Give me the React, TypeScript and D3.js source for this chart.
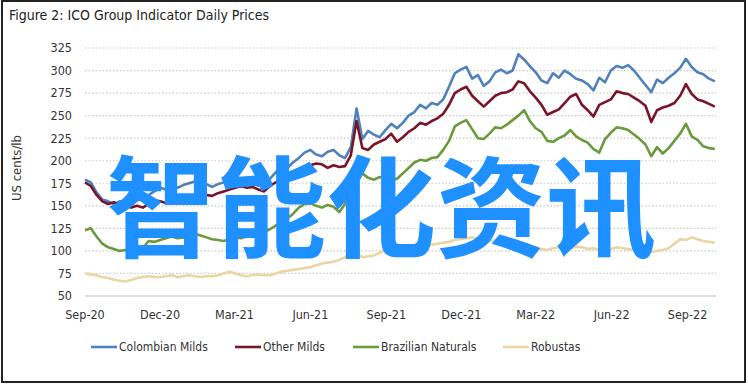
import React from 'react';
import * as d3 from 'd3';

// weekly readings, starting 1 Sep 2020
const startDate = '2020-09-01';
const endDate = '2022-10-03';

const colombianMilds = [
  179, 176, 165, 157, 155, 152, 155, 153, 150, 156, 158, 162, 166, 170, 168, 172, 170, 173, 175, 177,
  172, 174, 171, 174, 176, 173, 175, 171, 174, 176, 172, 177, 180, 187, 194, 192, 198, 203, 209, 212,
  207, 205, 210, 212, 206, 203, 215, 258, 224, 233, 229, 226, 234, 241, 236, 242, 250, 254, 262, 258,
  264, 262, 268, 282, 297, 301, 304, 291, 295, 283, 288, 298, 301, 297, 300, 318, 312, 305, 298, 289,
  286, 297, 292, 300, 296, 291, 289, 285, 278, 292, 287, 300, 305, 303, 306, 300, 292, 284, 276, 290,
  286, 292, 297, 303, 313, 304, 298, 296, 291, 288,
];

const otherMilds = [
  176, 172, 162, 155, 152, 154, 150, 151, 148, 150, 148, 152, 156, 155, 153, 157, 159, 160, 158, 161,
  159, 162, 161, 164, 166, 168, 170, 172, 170, 171, 168, 166, 172, 176, 178, 180, 183, 188, 192, 195,
  197, 196, 192, 195, 193, 194, 206, 244, 214, 212, 218, 221, 224, 230, 221, 226, 232, 236, 242, 240,
  244, 247, 252, 262, 275, 279, 282, 272, 266, 260, 266, 272, 275, 276, 279, 288, 286, 277, 270, 262,
  251, 254, 257, 264, 271, 274, 262, 256, 249, 262, 265, 268, 277, 275, 274, 270, 266, 261, 243, 256,
  259, 261, 264, 272, 285, 274, 268, 266, 263, 260,
];

const brazilianNaturals = [
  123, 125, 116, 108, 104, 102, 100, 101, 98, 95, 103, 111, 110, 112, 114, 116, 114, 115, 112, 119,
  117, 115, 113, 112, 111, 113, 115, 114, 116, 117, 118, 121, 124, 128, 132, 136, 141, 148, 152, 153,
  150, 148, 151, 149, 143, 152, 172, 193, 186, 181, 179, 182, 180, 178, 180, 186, 192, 198, 201, 200,
  203, 204, 212, 222, 238, 242, 245, 235, 225, 224, 230, 237, 236, 240, 245, 250, 256, 244, 236, 232,
  222, 221, 225, 228, 234, 227, 223, 220, 213, 209, 224, 231, 237, 236, 234, 229, 224, 218, 205, 215,
  208, 214, 222, 230, 241, 227, 223, 216, 214, 213,
];

const robustas = [
  75, 74, 73, 71, 70, 68, 67, 66, 68, 70, 71, 72, 71, 71, 72, 73, 71, 72, 73, 72,
  71, 72, 72, 73, 75, 77, 75, 73, 72, 73, 74, 73, 73, 75, 77, 78, 79, 80, 81, 82,
  84, 86, 87, 88, 90, 93, 98, 97, 93, 94, 95, 98, 101, 100, 102, 103, 104, 103, 105, 106,
  107, 108, 109, 110, 112, 113, 114, 115, 113, 112, 111, 112, 113, 111, 110, 109, 107, 105, 104, 102,
  101, 103, 104, 104, 103, 105, 104, 102, 103, 101, 101, 102, 104, 103, 102, 101, 100, 99, 99, 100,
  101, 103, 108, 113, 112, 115, 113, 111, 110, 109,
];

const seriesNames = ['Colombian Milds', 'Other Milds', 'Brazilian Naturals', 'Robustas'];
const seriesColors = ['#4f81bd', '#7a1428', '#6a9a3a', '#ead5a3'];
const xTickLabels = ['Sep-20', 'Dec-20', 'Mar-21', 'Jun-21', 'Sep-21', 'Dec-21', 'Mar-22', 'Jun-22', 'Sep-22'];
const yTicks = [50, 75, 100, 125, 150, 175, 200, 225, 250, 275, 300, 325];

const W = 748;
const H = 387;
const font = '"DejaVu Sans Condensed", "Liberation Sans Narrow", sans-serif';

export default function App() {
  const parseDay = d3.timeParse('%Y-%m-%d');
  const parseTick = d3.timeParse('%b-%y');
  const start = parseDay(startDate) as Date;

  const x = d3.scaleTime().domain([start, parseDay(endDate) as Date]).range([85, 714]);
  const y = d3.scaleLinear().domain([50, 325]).range([296, 48]);

  const allSeries = [colombianMilds, otherMilds, brazilianNaturals, robustas];
  const line = d3
    .line<number>()
    .x((_, i) => x(d3.timeDay.offset(start, 7 * i)))
    .y((d) => y(d));

  const legendX = [91, 235, 353, 503];

  return (
    <div style={{ position: 'absolute', left: 0, top: 0 }}>
      <svg width={W} height={H} style={{ display: 'block', background: '#fff' }} fontFamily={font}>
        <rect x={2} y={1} width={743} height={381} fill="#fff" stroke="#222" strokeWidth={2} />
        <text x={9} y={20} fontSize={14} fill="#222">
          Figure 2: ICO Group Indicator Daily Prices
        </text>

        {/* grid + y labels */}
        {yTicks.map((t) => (
          <g key={t}>
            <line
              x1={85}
              x2={716}
              y1={y(t)}
              y2={y(t)}
              stroke={t === 50 ? '#d4d4d4' : '#c8c8c8'}
              strokeWidth={t === 50 ? 1.5 : 1.2}
              strokeDasharray={t === 50 ? undefined : '1.5,2'}
            />
            <text x={72} y={y(t)} dy="0.35em" textAnchor="end" fontSize={12.5} fill="#333">
              {t}
            </text>
          </g>
        ))}

        <text
          transform={`translate(21,168) rotate(-90)`}
          textAnchor="middle"
          fontSize={13}
          fill="#333"
        >
          US cents/lb
        </text>

        {xTickLabels.map((l) => (
          <text key={l} x={x(parseTick(l) as Date)} y={319} textAnchor="middle" fontSize={12.5} fill="#333">
            {l}
          </text>
        ))}

        {allSeries.map((s, k) => (
          <path
            key={seriesNames[k]}
            d={line(s) ?? ''}
            fill="none"
            stroke={seriesColors[k]}
            strokeWidth={2.6}
            strokeLinejoin="round"
          />
        ))}

        {/* legend */}
        {seriesNames.map((n, k) => (
          <g key={n}>
            <line x1={legendX[k]} x2={legendX[k] + 26} y1={347} y2={347} stroke={seriesColors[k]} strokeWidth={2.6} />
            <text x={legendX[k] + 28} y={347} dy="0.35em" fontSize={12} fill="#333">
              {n}
            </text>
          </g>
        ))}

        <text
          x={106}
          y={249}
          fontSize={110}
          fontWeight="bold"
          fill="#1e90ff"
          fontFamily='"Noto Sans CJK SC", sans-serif'
        >
          智能化资讯
        </text>
      </svg>
    </div>
  );
}
